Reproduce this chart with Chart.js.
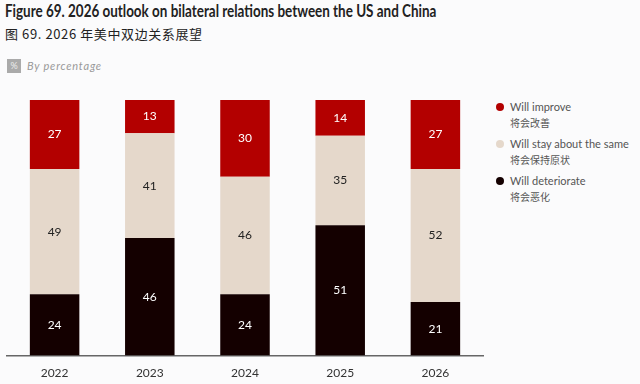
<!DOCTYPE html>
<html lang="en">
<head>
    <meta charset="UTF-8">
    <title>2026 outlook on bilateral relations</title>
    <script src="https://cdn.jsdelivr.net/npm/chart.js"></script>
    <style>
        body { margin: 0; width: 640px; height: 384px; background: #fbfbfc; font-family: Lato, "Noto Sans", sans-serif; position: relative; overflow: hidden; }
        .title { position: absolute; left: 5px; top: 1px; font-size: 16.5px; font-weight: bold; color: #222; white-space: nowrap; transform: scaleX(0.815); transform-origin: left top; }
        .subtitle { position: absolute; left: 5px; top: 24px; font-size: 13px; letter-spacing: 0.6px; color: #222; font-family: "Noto Sans CJK SC", sans-serif; white-space: nowrap; }
        .unit { position: absolute; left: 7px; top: 59px; font-size: 11px; color: #999; font-style: italic; letter-spacing: 0.8px; line-height: 14px; }
        .unit .icon { display: inline-block; width: 14px; height: 14px; background: #aaa; color: #eee; font-size: 9px; text-align: center; line-height: 14px; font-style: normal; letter-spacing: 0; margin-right: 6px; vertical-align: top; }
        .legend { position: absolute; left: 496px; top: 99px; font-size: 11px; color: #555; }
        .legend .item { position: relative; padding-left: 14px; margin-bottom: 5px; line-height: 16px; }
        .legend .dot { position: absolute; left: 0; top: 4px; width: 8px; height: 8px; border-radius: 50%; }
        .legend .cn { font-family: "Noto Sans CJK SC", sans-serif; font-size: 10px; }
        #wrap { position: absolute; left: 0; top: 90px; width: 490px; height: 300px; }
    </style>
</head>
<body>
    <div class="title">Figure 69. 2026 outlook on bilateral relations between the US and China</div>
    <div class="subtitle">图 69. 2026 年美中双边关系展望</div>
    <div class="unit"><span class="icon">%</span>By percentage</div>
    <div class="legend">
        <div class="item"><span class="dot" style="background:#b30000"></span>Will improve<br><span class="cn">将会改善</span></div>
        <div class="item"><span class="dot" style="background:#e5d8cb"></span>Will stay about the same<br><span class="cn">将会保持原状</span></div>
        <div class="item"><span class="dot" style="background:#140000"></span>Will deteriorate<br><span class="cn">将会恶化</span></div>
    </div>
    <div id="wrap"><canvas id="chart"></canvas></div>

    <script>
        const years = ['2022', '2023', '2024', '2025', '2026'];
        const deteriorate = [24, 46, 24, 51, 21];
        const same = [49, 41, 46, 35, 52];
        const improve = [27, 13, 30, 14, 27];

        // write the value in the middle of each segment
        const segmentLabels = {
            id: 'segmentLabels',
            afterDatasetsDraw(chart) {
                const ctx = chart.ctx;
                ctx.save();
                ctx.font = '12px Lato, "Noto Sans", sans-serif';
                ctx.textAlign = 'center';
                ctx.textBaseline = 'middle';
                chart.data.datasets.forEach((ds, i) => {
                    chart.getDatasetMeta(i).data.forEach((bar, j) => {
                        const mid = (bar.y + bar.base) / 2;
                        ctx.fillStyle = ds.labelColor;
                        ctx.fillText(ds.data[j], bar.x, mid);
                    });
                });
                ctx.restore();
            }
        };

        const ctx = document.getElementById('chart').getContext('2d');
        new Chart(ctx, {
            type: 'bar',
            data: {
                labels: years,
                datasets: [
                    { label: 'Will deteriorate', data: deteriorate, backgroundColor: '#140000', labelColor: '#ffffff' },
                    { label: 'Will stay about the same', data: same, backgroundColor: '#e5d8cb', labelColor: '#222222' },
                    { label: 'Will improve', data: improve, backgroundColor: '#b30000', labelColor: '#ffffff' }
                ]
            },
            options: {
                responsive: true,
                maintainAspectRatio: false,
                animation: false,
                layout: { padding: { left: 7, right: 7, top: 10, bottom: 0 } },
                datasets: { bar: { barPercentage: 0.52, categoryPercentage: 1 } },
                plugins: { legend: { display: false }, tooltip: { enabled: false } },
                scales: {
                    x: {
                        stacked: true,
                        grid: { display: false, drawTicks: false },
                        border: { color: '#666', width: 1.5 },
                        ticks: { color: '#333', font: { size: 12, family: 'Lato' }, padding: 10 }
                    },
                    y: {
                        stacked: true,
                        min: 0,
                        max: 100,
                        display: false
                    }
                }
            },
            plugins: [segmentLabels]
        });
    </script>
</body>
</html>
